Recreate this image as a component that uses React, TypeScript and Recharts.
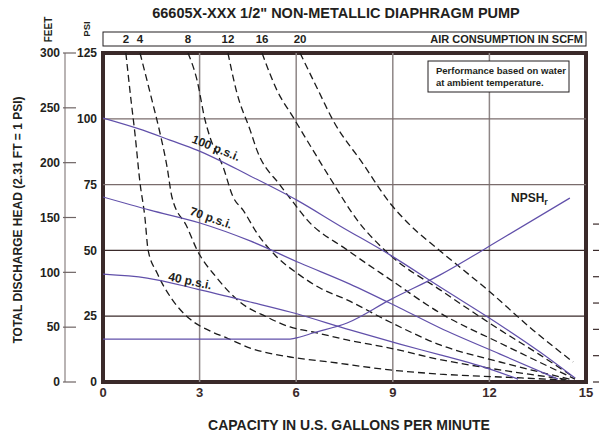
import React from "react";
import {
  LineChart,
  Line,
  XAxis,
  YAxis,
  ReferenceLine,
  ReferenceArea,
  ReferenceDot,
} from "recharts";

type Pt = [number, number];

// air consumption curves (SCFM), capacity gpm vs head psi
const scfm2: Pt[] = [
  [0.71, 125], [0.87, 107.1], [0.99, 94.6], [1.15, 75.6], [1.3, 62.7], [1.4, 50.2],
  [1.68, 41.4], [2.14, 31.5], [2.7, 23.9], [3.32, 19.4], [3.85, 16.7], [4.57, 12.9],
  [5.81, 9.5], [7.05, 7.6], [8.91, 4.6], [10.47, 3.0], [12.33, 1.9], [14.35, 0.8],
];
const scfm4: Pt[] = [
  [1.15, 125], [1.52, 107.1], [1.77, 94.6], [1.99, 81.7], [2.14, 70.3], [2.61, 58.9],
  [2.92, 50.2], [3.54, 39.5], [4.25, 30.4], [5.09, 24.7], [5.81, 20.9], [6.52, 19.0],
  [7.58, 16.0], [8.91, 12.9], [10.47, 8.5], [12.33, 4.6], [14.5, 0.8],
];
const scfm8: Pt[] = [
  [2.64, 125], [2.92, 114.7], [3.17, 99.5], [3.32, 93.1], [3.73, 81.7], [4.04, 70.3],
  [4.35, 65.3], [4.78, 56.6], [5.4, 47.5], [6.02, 41.4], [6.74, 35.7], [7.58, 31.2],
  [8.91, 22.8], [10.47, 14.1], [12.33, 7.6], [14.6, 0.8],
];
const scfm12: Pt[] = [
  [3.88, 125], [4.16, 109.8], [4.57, 95.7], [4.78, 88.1], [5.5, 74.8], [5.9, 68.4],
  [6.34, 61.6], [7.58, 50.2], [8.91, 39.0], [10.47, 26.2], [12.33, 14.8], [14.66, 1.1],
];
const scfm16: Pt[] = [
  [4.94, 125], [5.4, 110.9], [5.9, 100.7], [6.52, 88.1], [7.05, 77.5], [7.89, 61.6],
  [8.91, 48.3], [10.47, 35.0], [12.33, 19.8], [13.57, 10.3], [14.66, 1.5],
];
const scfm20: Pt[] = [
  [6.12, 125], [6.68, 110.9], [7.14, 99.5], [8.07, 83.0], [8.91, 68.0], [9.53, 59.7],
  [10.47, 49.8], [12.02, 34.2], [13.35, 19.8], [14.6, 7.6],
];

// inlet air pressure curves
const psi100: Pt[] = [
  [0, 100.3], [1.24, 95.7], [2.08, 91.9], [2.92, 88.1], [4.57, 78.3], [6.02, 69.1],
  [7.36, 59.3], [8.91, 48.3], [10.47, 36.1], [12.33, 21.7], [13.57, 11.4], [14.66, 1.5],
];
const psi70: Pt[] = [
  [0, 70.3], [1.46, 65.3], [3.01, 60.4], [4.57, 53.6], [6.12, 45.2], [7.67, 37.2],
  [9.22, 28.1], [10.47, 20.5], [12.33, 10.6], [14.13, 1.1],
];
const psi40: Pt[] = [
  [0, 41.0], [1.37, 39.5], [2.92, 35.3], [4.57, 30.4], [5.81, 26.6], [7.67, 19.8],
  [9.22, 14.4], [10.47, 10.3], [11.71, 6.1], [12.89, 1.1],
];
const npshr: Pt[] = [
  [0, 16.3], [3.0, 16.3], [5.81, 16.3], [6.12, 17.1], [6.52, 18.6], [7.58, 22.4],
  [8.91, 31.2], [10.47, 40.7], [12.42, 54.7], [14.5, 69.9],
];

const airCurves = [scfm2, scfm4, scfm8, scfm12, scfm16, scfm20];
const airLabels = ["2", "4", "8", "12", "16", "20"];
const pressureCurves = [psi100, psi70, psi40];

const gpmTicks = [0, 3, 6, 9, 12, 15];
const psiTicks = [0, 25, 50, 75, 100, 125];
const feetTicks = [0, 50, 100, 150, 200, 250, 300];
const npshTicks = [0, 10, 20, 30, 40, 50, 60];

const toPts = (arr: Pt[]) => arr.map(([gpm, psi]) => ({ gpm, psi }));

const DARK = "#3a2a2a";
const PURPLE = "#6150aa";
const FONT = '"Liberation Sans", Arial, Helvetica, sans-serif';

// axis ids: "a_psi" sits next to the plot, "b_ft" outside it
const PSI = "a_psi";
const FT = "b_ft";

const FeetTick = (props: any) => {
  const { x, y, payload } = props;
  return (
    <g>
      <line x1={x - 2} x2={x + 11} y1={y} y2={y} stroke="#6e6464" strokeWidth={1.2} />
      <text x={x - 5} y={y} dy="0.36em" textAnchor="end" fontSize={12} fontWeight={700} fill="#231f20">
        {payload.value}
      </text>
    </g>
  );
};

const RightTick = (props: any) => {
  const { x, y } = props;
  return <line x1={x + 7} x2={x + 14} y1={y} y2={y} stroke={DARK} strokeWidth={1.2} />;
};

export default function App() {
  return (
    <div
      style={{
        position: "absolute",
        left: 0,
        top: 0,
        width: 599,
        height: 439,
        background: "#fff",
        fontFamily: FONT,
      }}
    >
      <LineChart width={599} height={439} margin={{ top: 53, right: 0, bottom: 27, left: 25 }}>
        <XAxis
          xAxisId="gpm"
          dataKey="gpm"
          type="number"
          domain={[0, 15]}
          ticks={gpmTicks}
          interval={0}
          allowDataOverflow
          height={30}
          axisLine={false}
          tickLine={false}
          tickSize={0}
          tickMargin={6}
          tick={{ fontSize: 13, fontWeight: 700, fill: DARK }}
        />
        <YAxis
          yAxisId={PSI}
          type="number"
          domain={[0, 125]}
          ticks={psiTicks}
          interval={0}
          allowDataOverflow
          width={38}
          axisLine={false}
          tickLine={false}
          tickSize={0}
          tickMargin={6}
          tick={{ fontSize: 12, fontWeight: 700, fill: "#231f20" }}
        />
        <YAxis
          yAxisId={FT}
          type="number"
          domain={[0, 300]}
          ticks={feetTicks}
          interval={0}
          allowDataOverflow
          width={40}
          axisLine={{ stroke: "#8a8282", strokeWidth: 1.2 }}
          tickLine={false}
          tickSize={0}
          tickMargin={0}
          tick={<FeetTick />}
        />
        <YAxis
          yAxisId="npsh"
          orientation="right"
          type="number"
          domain={[0, 125]}
          ticks={npshTicks}
          interval={0}
          allowDataOverflow
          width={13}
          axisLine={false}
          tickLine={false}
          tickSize={0}
          tickMargin={0}
          tick={<RightTick />}
        />

        {gpmTicks.slice(1, -1).map((v) => (
          <ReferenceLine key={"gx" + v} xAxisId="gpm" yAxisId={PSI} x={v} stroke="#8e8686" strokeWidth={1.5} />
        ))}
        {psiTicks.slice(1, -1).map((v) => (
          <ReferenceLine
            key={"gy" + v}
            xAxisId="gpm"
            yAxisId={PSI}
            y={v}
            stroke={v > 60 ? "#7a6c6c" : DARK}
            strokeWidth={1.3}
          />
        ))}

        {airCurves.map((c, i) => (
          <Line
            key={"air" + i}
            xAxisId="gpm"
            yAxisId={PSI}
            data={toPts(c)}
            dataKey="psi"
            type="monotone"
            stroke="#1b1b1b"
            strokeWidth={1.3}
            strokeDasharray="7 4"
            dot={false}
            isAnimationActive={false}
          />
        ))}
        {pressureCurves.map((c, i) => (
          <Line
            key={"p" + i}
            xAxisId="gpm"
            yAxisId={PSI}
            data={toPts(c)}
            dataKey="psi"
            type="monotone"
            stroke={PURPLE}
            strokeWidth={1.2}
            dot={false}
            isAnimationActive={false}
          />
        ))}
        <Line
          xAxisId="gpm"
          yAxisId="npsh"
          data={toPts(npshr)}
          dataKey="psi"
          type="monotone"
          stroke={PURPLE}
          strokeWidth={1.2}
          dot={false}
          isAnimationActive={false}
        />

        <ReferenceArea
          xAxisId="gpm"
          yAxisId={PSI}
          x1={0}
          x2={15}
          y1={0}
          y2={125}
          fill="none"
          fillOpacity={0}
          stroke={DARK}
          strokeWidth={4}
          ifOverflow="visible"
        />

        {airCurves.map((c, i) => (
          <ReferenceDot
            key={"lbl" + i}
            xAxisId="gpm"
            yAxisId={PSI}
            x={c[0][0]}
            y={c[0][1]}
            r={0}
            fill="none"
            stroke="none"
            ifOverflow="visible"
            label={{
              value: airLabels[i],
              position: "top",
              offset: 10,
              fontSize: 11.5,
              fontWeight: 700,
              fill: "#231f20",
            }}
          />
        ))}
      </LineChart>

      <svg
        width={599}
        height={439}
        style={{ position: "absolute", left: 0, top: 0, pointerEvents: "none" }}
        fontFamily={FONT}
        fontWeight={700}
        fill="#231f20"
      >
        <text x={336} y={18} textAnchor="middle" fontSize={14.5}>
          66605X-XXX 1/2" NON-METALLIC DIAPHRAGM PUMP
        </text>

        <rect x={103} y={32} width={483} height={14} fill="none" stroke="#231f20" strokeWidth={1} />
        <text x={583} y={43} textAnchor="end" fontSize={11}>
          AIR CONSUMPTION IN SCFM
        </text>

        <text x={52} y={29.5} textAnchor="middle" fontSize={10} transform="rotate(-90 52 29.5)">
          FEET
        </text>
        <text x={90} y={29} textAnchor="middle" fontSize={9.5} transform="rotate(-90 90 29)">
          PSI
        </text>
        <text x={22} y={220} textAnchor="middle" fontSize={12} transform="rotate(-90 22 220)">
          TOTAL DISCHARGE HEAD (2.31 FT = 1 PSI)
        </text>
        <text x={349} y={430} textAnchor="middle" fontSize={14}>
          CAPACITY IN U.S. GALLONS PER MINUTE
        </text>

        <rect x={428} y={61} width={141} height={31} fill="#fff" stroke="#231f20" strokeWidth={1} />
        <text x={436} y={74} fontSize={9.5}>
          Performance based on water
        </text>
        <text x={436} y={86} fontSize={9.5}>
          at ambient temperature.
        </text>

        <text x={216} y={148} textAnchor="middle" dominantBaseline="central" fontSize={12} transform="rotate(22 216 148)">
          100 p.s.i.
        </text>
        <text x={211} y={218} textAnchor="middle" dominantBaseline="central" fontSize={12} transform="rotate(19 211 218)">
          70 p.s.i.
        </text>
        <text x={190} y={281} textAnchor="middle" dominantBaseline="central" fontSize={12} transform="rotate(12 190 281)">
          40 p.s.i.
        </text>

        <text x={511} y={202} fontSize={12}>
          NPSH
          <tspan fontSize={9} dy={3}>
            r
          </tspan>
        </text>
      </svg>
    </div>
  );
}
